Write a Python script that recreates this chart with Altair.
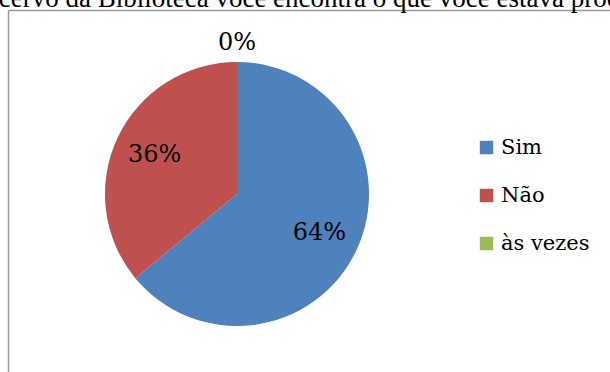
import altair as alt
import pandas as pd

categories = ["Sim", "Não", "às vezes"]
values = [64, 36, 0]
labels = ["64%", "36%", "0%"]
colors = ["#4F81BD", "#C0504D", "#9BBB59"]
title_text = "No acervo da Biblioteca você encontra o que você estava procurando?"

df = pd.DataFrame({"cat": categories, "value": values, "label": labels,
                   "order": list(range(len(categories)))})

W, H = 610, 372
CX, CY, R = 237, 194, 132

base = alt.Chart(df).encode(
    theta=alt.Theta("value:Q", stack=True),
    order=alt.Order("order:Q"),
)

pie = base.mark_arc(outerRadius=R).encode(
    x=alt.value(CX), y=alt.value(CY),
    color=alt.Color("cat:N", scale=alt.Scale(domain=categories, range=colors),
                    sort=categories,
                    legend=alt.Legend(title=None, orient="none", legendX=476, legendY=137,
                                      symbolType="square", symbolSize=180,
                                      symbolStrokeWidth=0, labelFont="DejaVu Serif",
                                      labelFontSize=21, labelColor="black",
                                      labelOffset=4, rowPadding=26, padding=0)),
)

text = base.transform_calculate(
    r="datum.value == 0 ? 151 : 91"
).mark_text(font="DejaVu Serif", fontSize=24, color="black", baseline="middle",
            align="center").encode(
    x=alt.value(CX), y=alt.value(CY),
    radius=alt.Radius("r:Q", scale=None),
    text="label:N",
)

border_df = pd.DataFrame({"t": [title_text]})
top_line = alt.Chart(border_df).mark_rule(color="#9a9a9a", strokeWidth=1.5).encode(
    x=alt.value(8.5), x2=alt.value(W), y=alt.value(10.5))
left_line = alt.Chart(border_df).mark_rule(color="#9a9a9a", strokeWidth=1.5).encode(
    x=alt.value(8.5), y=alt.value(10.5), y2=alt.value(H))
title = alt.Chart(border_df).mark_text(font="Liberation Serif", fontSize=27, color="black",
                                       align="left", baseline="alphabetic").encode(
    x=alt.value(-53), y=alt.value(7), text="t:N")

chart = alt.layer(top_line, left_line, pie, text, title).properties(
    width=W, height=H, autosize=alt.AutoSizeParams(type="none"), padding=0,
    background="white",
).configure_view(stroke=None)

chart.save("out.html", embed_options={"renderer": "svg", "actions": False})
